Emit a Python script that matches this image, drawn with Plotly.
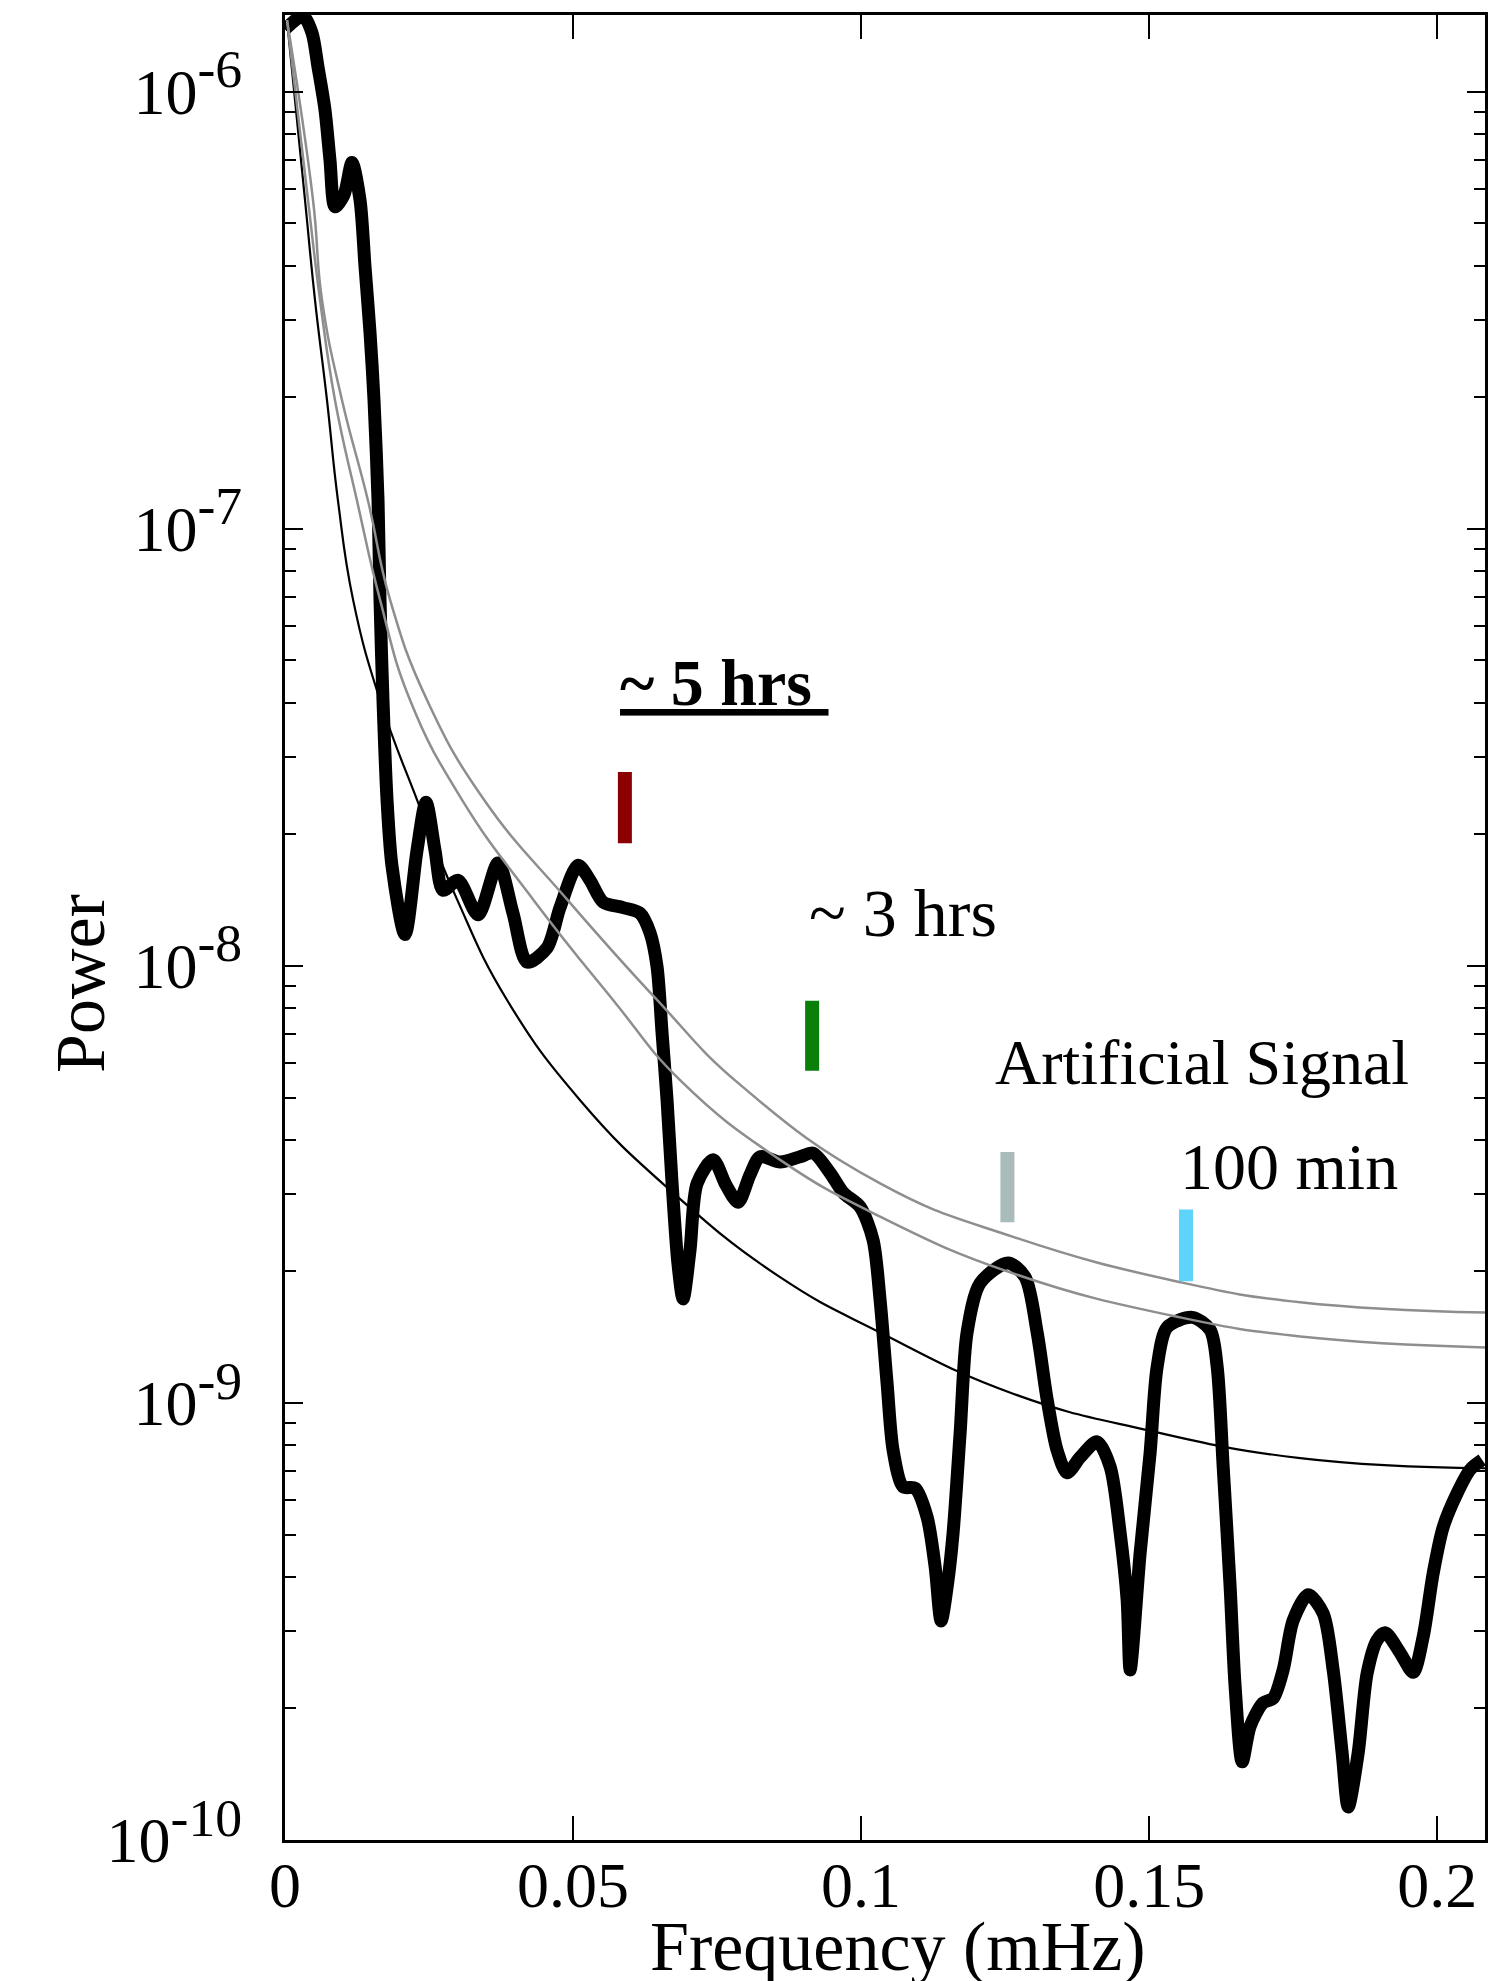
import plotly.graph_objects as go

# ---------------- data ----------------
# thick black power spectrum
freq = [0.0, 0.00313, 0.00469, 0.00573, 0.00694, 0.00781, 0.00868, 0.01024, 0.01163,
        0.01302, 0.01389, 0.01476, 0.01545, 0.01615, 0.01649, 0.01701, 0.01771, 0.01858,
        0.02083, 0.02292, 0.02448, 0.02604, 0.02743, 0.03003, 0.03351, 0.03698, 0.03958,
        0.04201, 0.04549, 0.04774, 0.05087, 0.05295, 0.05521, 0.05868, 0.06163, 0.06337,
        0.06458, 0.06545, 0.06632, 0.06719, 0.06823, 0.06910, 0.07031, 0.07153, 0.07431,
        0.07656, 0.07865, 0.08073, 0.08247, 0.08594, 0.08941, 0.09167, 0.09462, 0.09688,
        0.09983, 0.10208, 0.10330, 0.10451, 0.10556, 0.10729, 0.10938, 0.11146, 0.11285,
        0.11389, 0.11510, 0.11597, 0.11719, 0.11840, 0.12066, 0.12552, 0.12847, 0.13056,
        0.13229, 0.13403, 0.13576, 0.13802, 0.14097, 0.14323, 0.14497, 0.14618, 0.14670,
        0.14844, 0.15017, 0.15139, 0.15313, 0.15747, 0.16059, 0.16181, 0.16285, 0.16406,
        0.16493, 0.16615, 0.16753, 0.16979, 0.17153, 0.17326, 0.17500, 0.17760, 0.18021,
        0.18194, 0.18351, 0.18455, 0.18628, 0.18785, 0.18958, 0.19097, 0.19358, 0.19583,
        0.19757, 0.19931, 0.20104, 0.20347, 0.20573, 0.20781]
power = [1.39e-6, 1.49e-6, 1.365e-6, 1.14e-6, 9.10e-7, 6.98e-7, 5.46e-7, 5.81e-7, 6.89e-7,
         5.66e-7, 3.98e-7, 2.81e-7, 1.97e-7, 1.16e-7, 6.89e-8, 4.06e-8, 2.40e-8, 1.69e-8,
         1.18e-8, 1.84e-8, 2.37e-8, 1.84e-8, 1.49e-8, 1.57e-8, 1.31e-8, 1.72e-8, 1.32e-8,
         1.02e-8, 1.10e-8, 1.36e-8, 1.70e-8, 1.57e-8, 1.40e-8, 1.36e-8, 1.32e-8, 1.19e-8,
         9.96e-9, 7.03e-9, 4.93e-9, 3.18e-9, 2.07e-9, 1.73e-9, 2.24e-9, 3.18e-9, 3.60e-9,
         3.15e-9, 2.88e-9, 3.33e-9, 3.66e-9, 3.56e-9, 3.66e-9, 3.73e-9, 3.36e-9, 3.03e-9,
         2.81e-9, 2.36e-9, 1.72e-9, 1.11e-9, 7.79e-10, 6.43e-10, 6.38e-10, 5.48e-10, 4.22e-10,
         3.17e-10, 3.94e-10, 5.04e-10, 8.53e-10, 1.45e-9, 1.88e-9, 2.09e-9, 1.94e-9, 1.45e-9,
         1.02e-9, 7.79e-10, 6.92e-10, 7.51e-10, 8.15e-10, 7.15e-10, 5.04e-10, 3.54e-10, 2.45e-10,
         4.54e-10, 7.69e-10, 1.21e-9, 1.49e-9, 1.57e-9, 1.47e-9, 1.21e-9, 7.15e-10, 3.79e-10,
         2.24e-10, 1.51e-10, 1.82e-10, 2.06e-10, 2.11e-10, 2.45e-10, 3.18e-10, 3.64e-10, 3.30e-10,
         2.45e-10, 1.58e-10, 1.19e-10, 1.58e-10, 2.41e-10, 2.87e-10, 2.98e-10, 2.68e-10, 2.42e-10,
         2.92e-10, 4.08e-10, 5.20e-10, 6.22e-10, 7.04e-10, 7.41e-10]

# thin black background curve
bg_freq = [0.00035, 0.00347, 0.00521, 0.00729, 0.00920, 0.01181, 0.01649, 0.02292, 0.02986,
           0.03854, 0.05122, 0.06684, 0.08594, 0.10330, 0.12639, 0.14965, 0.17622, 0.2083]
bg_power = [1.46e-6, 5.66e-7, 3.34e-7, 1.97e-7, 1.16e-7, 6.89e-8, 4.06e-8, 2.40e-8, 1.42e-8,
            8.36e-9, 4.93e-9, 3.07e-9, 1.94e-9, 1.45e-9, 1.05e-9, 8.67e-10, 7.48e-10, 7.09e-10]

# lower grey confidence curve
lo_freq = [0.00035, 0.00399, 0.00608, 0.00868, 0.01250, 0.01649, 0.02170, 0.03073, 0.04306,
           0.05694, 0.06858, 0.08594, 0.10330, 0.12639, 0.15538, 0.17622, 0.2083]
lo_power = [1.46e-6, 5.66e-7, 3.34e-7, 1.97e-7, 1.16e-7, 6.89e-8, 4.06e-8, 2.40e-8, 1.42e-8,
            8.36e-9, 5.48e-9, 3.60e-9, 2.67e-9, 1.98e-9, 1.57e-9, 1.42e-9, 1.34e-9]

# upper grey confidence curve
hi_freq = [0.00035, 0.00486, 0.00642, 0.00990, 0.01441, 0.01823, 0.02465, 0.03455, 0.04896,
           0.06458, 0.07899, 0.10330, 0.12639, 0.15538, 0.17622, 0.2083]
hi_power = [1.46e-6, 5.66e-7, 3.34e-7, 1.97e-7, 1.16e-7, 6.89e-8, 4.06e-8, 2.40e-8, 1.42e-8,
            8.36e-9, 5.35e-9, 3.18e-9, 2.40e-9, 1.89e-9, 1.70e-9, 1.61e-9]

# coloured period markers
mark_freq = [0.0590, 0.0915, 0.1254, 0.1564]
mark_low = [1.91e-8, 5.76e-9, 2.59e-9, 1.90e-9]
mark_high = [2.78e-8, 8.32e-9, 3.75e-9, 2.77e-9]
mark_colors = ["#8B0000", "#0A800A", "#A9BBBA", "#5ED4FA"]

x_tickvals = [0, 0.05, 0.1, 0.15, 0.2]
x_ticktext = ["0", "0.05", "0.1", "0.15", "0.2"]
y_tickvals = [1e-10, 1e-9, 1e-8, 1e-7, 1e-6]
y_exponents = ["-10", "-9", "-8", "-7", "-6"]

# ---------------- figure ----------------
FONT = "Liberation Serif"
fig = go.Figure()

fig.add_trace(go.Scatter(x=freq, y=power, mode="lines",
                         line=dict(color="black", width=13, shape="spline", smoothing=0.8),
                         hoverinfo="skip"))
fig.add_trace(go.Scatter(x=bg_freq, y=bg_power, mode="lines",
                         line=dict(color="black", width=2.2, shape="spline", smoothing=1.3),
                         hoverinfo="skip"))
fig.add_trace(go.Scatter(x=lo_freq, y=lo_power, mode="lines",
                         line=dict(color="#8E8E8E", width=2.5, shape="spline", smoothing=1.3),
                         hoverinfo="skip"))
fig.add_trace(go.Scatter(x=hi_freq, y=hi_power, mode="lines",
                         line=dict(color="#8E8E8E", width=2.5, shape="spline", smoothing=1.3),
                         hoverinfo="skip"))
for f, lo, hi, c in zip(mark_freq, mark_low, mark_high, mark_colors):
    fig.add_trace(go.Scatter(x=[f, f], y=[lo, hi], mode="lines",
                             line=dict(color=c, width=14), hoverinfo="skip"))

y_ticktext = ["10<sup><span style='font-size:1.2em'>%s</span></sup>" % e for e in y_exponents]
minor_vals = [k * 10.0 ** e for e in range(-10, -5) for k in range(2, 10)]

axis_common = dict(showline=True, linecolor="black", linewidth=3, mirror="allticks",
                   ticks="inside", tickcolor="black", tickwidth=2, showgrid=False,
                   zeroline=False, tickfont=dict(family=FONT, size=64, color="black"))

fig.update_xaxes(range=[0, 0.2083], tickmode="array", tickvals=x_tickvals,
                 ticktext=x_ticktext, ticklen=24, ticklabelstandoff=-13, **axis_common)
fig.update_yaxes(type="log", range=[-10, -5.824], tickmode="array", tickvals=y_tickvals,
                 ticktext=y_ticktext, ticklen=18, ticklabelstandoff=27,
                 minor=dict(tickmode="array", tickvals=minor_vals, ticks="inside",
                            ticklen=11, tickwidth=2, tickcolor="black", showgrid=False),
                 **axis_common)

ann_font = dict(family=FONT, size=64, color="black")
annotations = [
    dict(text="<b><u>~ 5 hrs </u></b>", x=0.2775, y=0.634, xanchor="left", yanchor="middle",
         font=dict(family=FONT, size=66, color="black")),
    dict(text="~ 3 hrs", x=0.435, y=0.508, xanchor="left", yanchor="middle",
         font=dict(family=FONT, size=68, color="black")),
    dict(text="Artificial Signal", x=0.59, y=0.4258, xanchor="left", yanchor="middle",
         font=ann_font),
    dict(text="100 min", x=0.744, y=0.3693, xanchor="left", yanchor="middle",
         font=dict(family=FONT, size=66, color="black")),
    dict(text="Frequency (mHz)", x=0.511, y=-0.0586, xanchor="center", yanchor="middle",
         font=dict(family=FONT, size=70, color="black")),
    dict(text="Power", x=-0.17, y=0.4696, xanchor="center", yanchor="middle", textangle=-90,
         font=dict(family=FONT, size=70, color="black")),
]
for a in annotations:
    a.update(xref="paper", yref="paper", showarrow=False)

fig.update_layout(width=1512, height=1981, showlegend=False,
                  paper_bgcolor="white", plot_bgcolor="white",
                  margin=dict(l=285, r=27, t=15, b=141),
                  annotations=annotations)

fig.write_html("out.html")
